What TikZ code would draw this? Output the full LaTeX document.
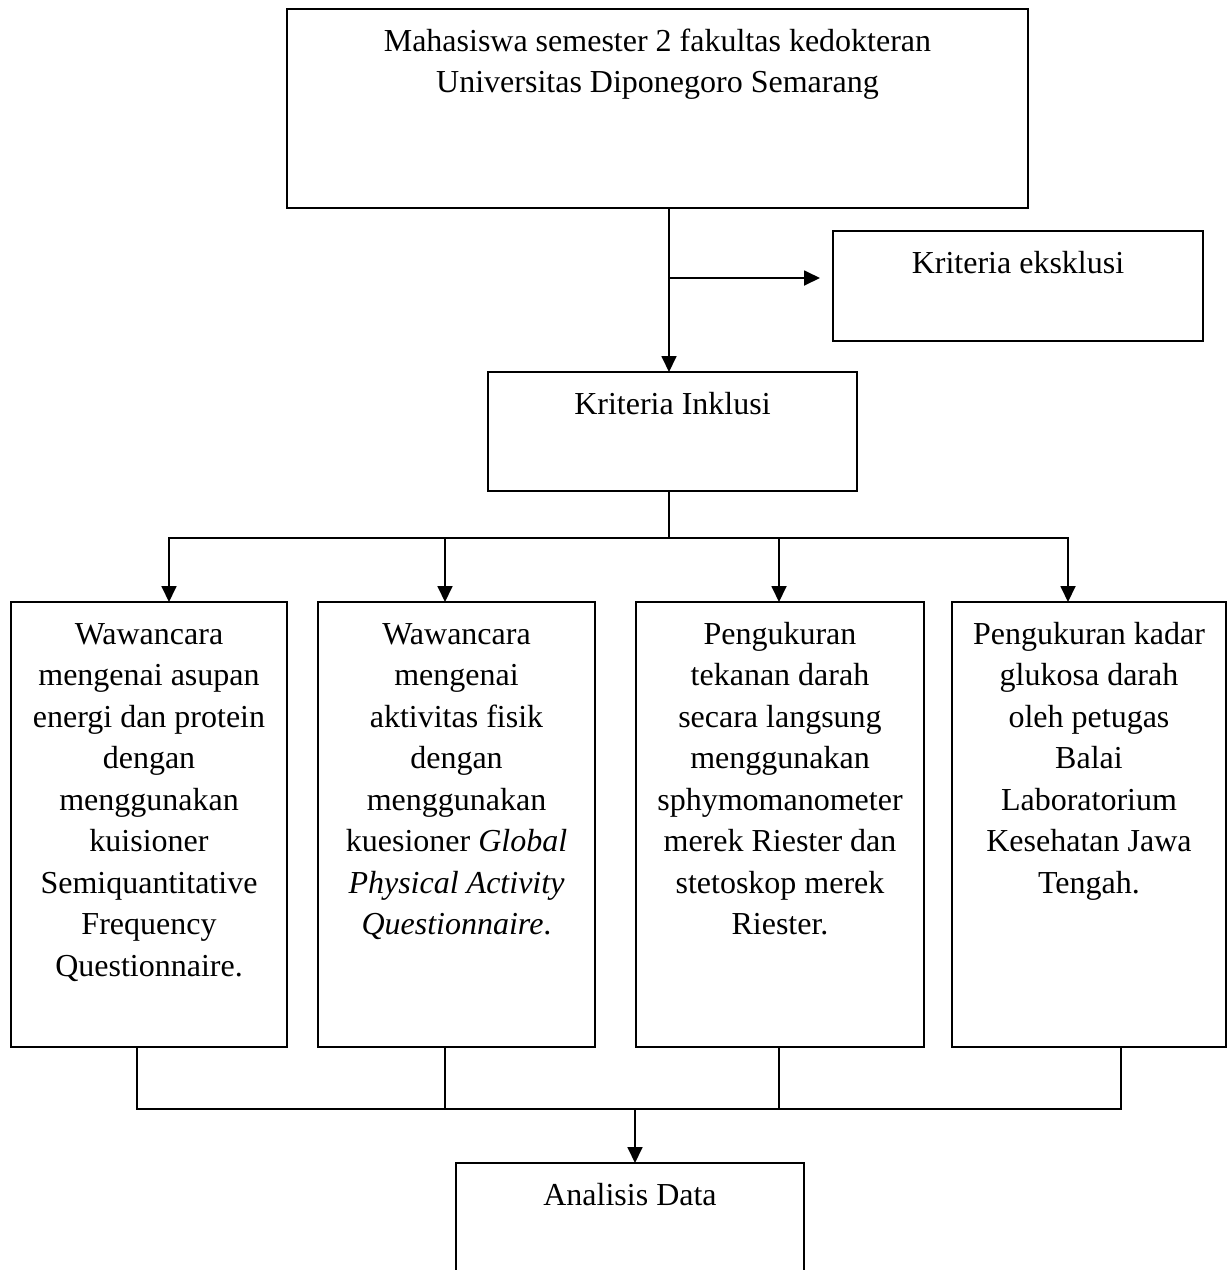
\documentclass[tikz,border=0pt]{standalone}
\usepackage{fontspec}
\setmainfont{Liberation Serif}
\usetikzlibrary{arrows.meta}
\newcommand{\bxt}[3]{\parbox[c][#2][t]{#1}{\centering\fontsize{32}{41.5}\selectfont\rule{0pt}{42pt}#3\par}}
\tikzset{
  box/.style={draw, line width=1.8pt, inner sep=0pt, outer sep=0pt, anchor=north west},
  conn/.style={line width=1.8pt, line cap=rect},
  arr/.style={line width=1.8pt, -{Triangle[length=16pt,width=15pt]}}
}
\begin{document}
\begin{tikzpicture}[x=1pt,y=1pt]
\useasboundingbox (0,0) rectangle (1227,-1270);
\clip (0,0) rectangle (1227,-1270);
\fill[white] (0,0) rectangle (1227,-1270);

\node[box] (top) at (287,-9) {\bxt{741pt}{199pt}{Mahasiswa semester 2 fakultas kedokteran\\Universitas Diponegoro Semarang}};
\node[box] (eks) at (833,-231) {\bxt{370pt}{110pt}{Kriteria eksklusi}};
\node[box] (ink) at (488,-372) {\bxt{369pt}{119pt}{Kriteria Inklusi}};
\node[box] (b1) at (11,-602) {\bxt{276pt}{445pt}{Wawancara\\mengenai asupan\\energi dan protein\\dengan\\menggunakan\\kuisioner\\Semiquantitative\\Frequency\\Questionnaire.}};
\node[box] (b2) at (318,-602) {\bxt{277pt}{445pt}{Wawancara\\mengenai\\aktivitas fisik\\dengan\\menggunakan\\kuesioner \textit{Global}\\\textit{Physical Activity}\\\textit{Questionnaire}.}};
\node[box] (b3) at (636,-602) {\bxt{288pt}{445pt}{Pengukuran\\tekanan darah\\secara langsung\\menggunakan\\sphymomanometer\\merek Riester dan\\stetoskop merek\\Riester.}};
\node[box] (b4) at (952,-602) {\bxt{274pt}{445pt}{Pengukuran kadar\\glukosa darah\\oleh petugas\\Balai\\Laboratorium\\Kesehatan Jawa\\Tengah.}};
\node[box] (ana) at (456,-1163) {\bxt{348pt}{140pt}{Analisis Data}};

% top connectors
\coordinate (x669) at (669,0);
\coordinate (br) at (669,-278);
\draw[arr] (top.south -| x669) -- (ink.north -| x669);
\draw[arr, shorten >=13pt] (br) -- (eks.west |- br);

% distribution to four boxes
\coordinate (hub1) at (669,-538);
\coordinate (c1) at (169,-538);
\coordinate (c2) at (445,-538);
\coordinate (c3) at (779,-538);
\coordinate (c4) at (1068,-538);
\draw[conn] (ink.south -| hub1) -- (hub1);
\draw[conn] (c1) -- (c4);
\draw[arr] (c1) -- (b1.north -| c1);
\draw[arr] (c2) -- (b2.north -| c2);
\draw[arr] (c3) -- (b3.north -| c3);
\draw[arr] (c4) -- (b4.north -| c4);

% collection to analysis
\coordinate (d1) at (137,-1109);
\coordinate (d2) at (445,-1109);
\coordinate (d3) at (779,-1109);
\coordinate (d4) at (1121,-1109);
\coordinate (hub2) at (635,-1109);
\draw[conn] (b1.south -| d1) -- (d1) -- (d4) -- (b4.south -| d4);
\draw[conn] (b2.south -| d2) -- (d2);
\draw[conn] (b3.south -| d3) -- (d3);
\draw[arr] (hub2) -- (ana.north -| hub2);
\end{tikzpicture}
\end{document}
